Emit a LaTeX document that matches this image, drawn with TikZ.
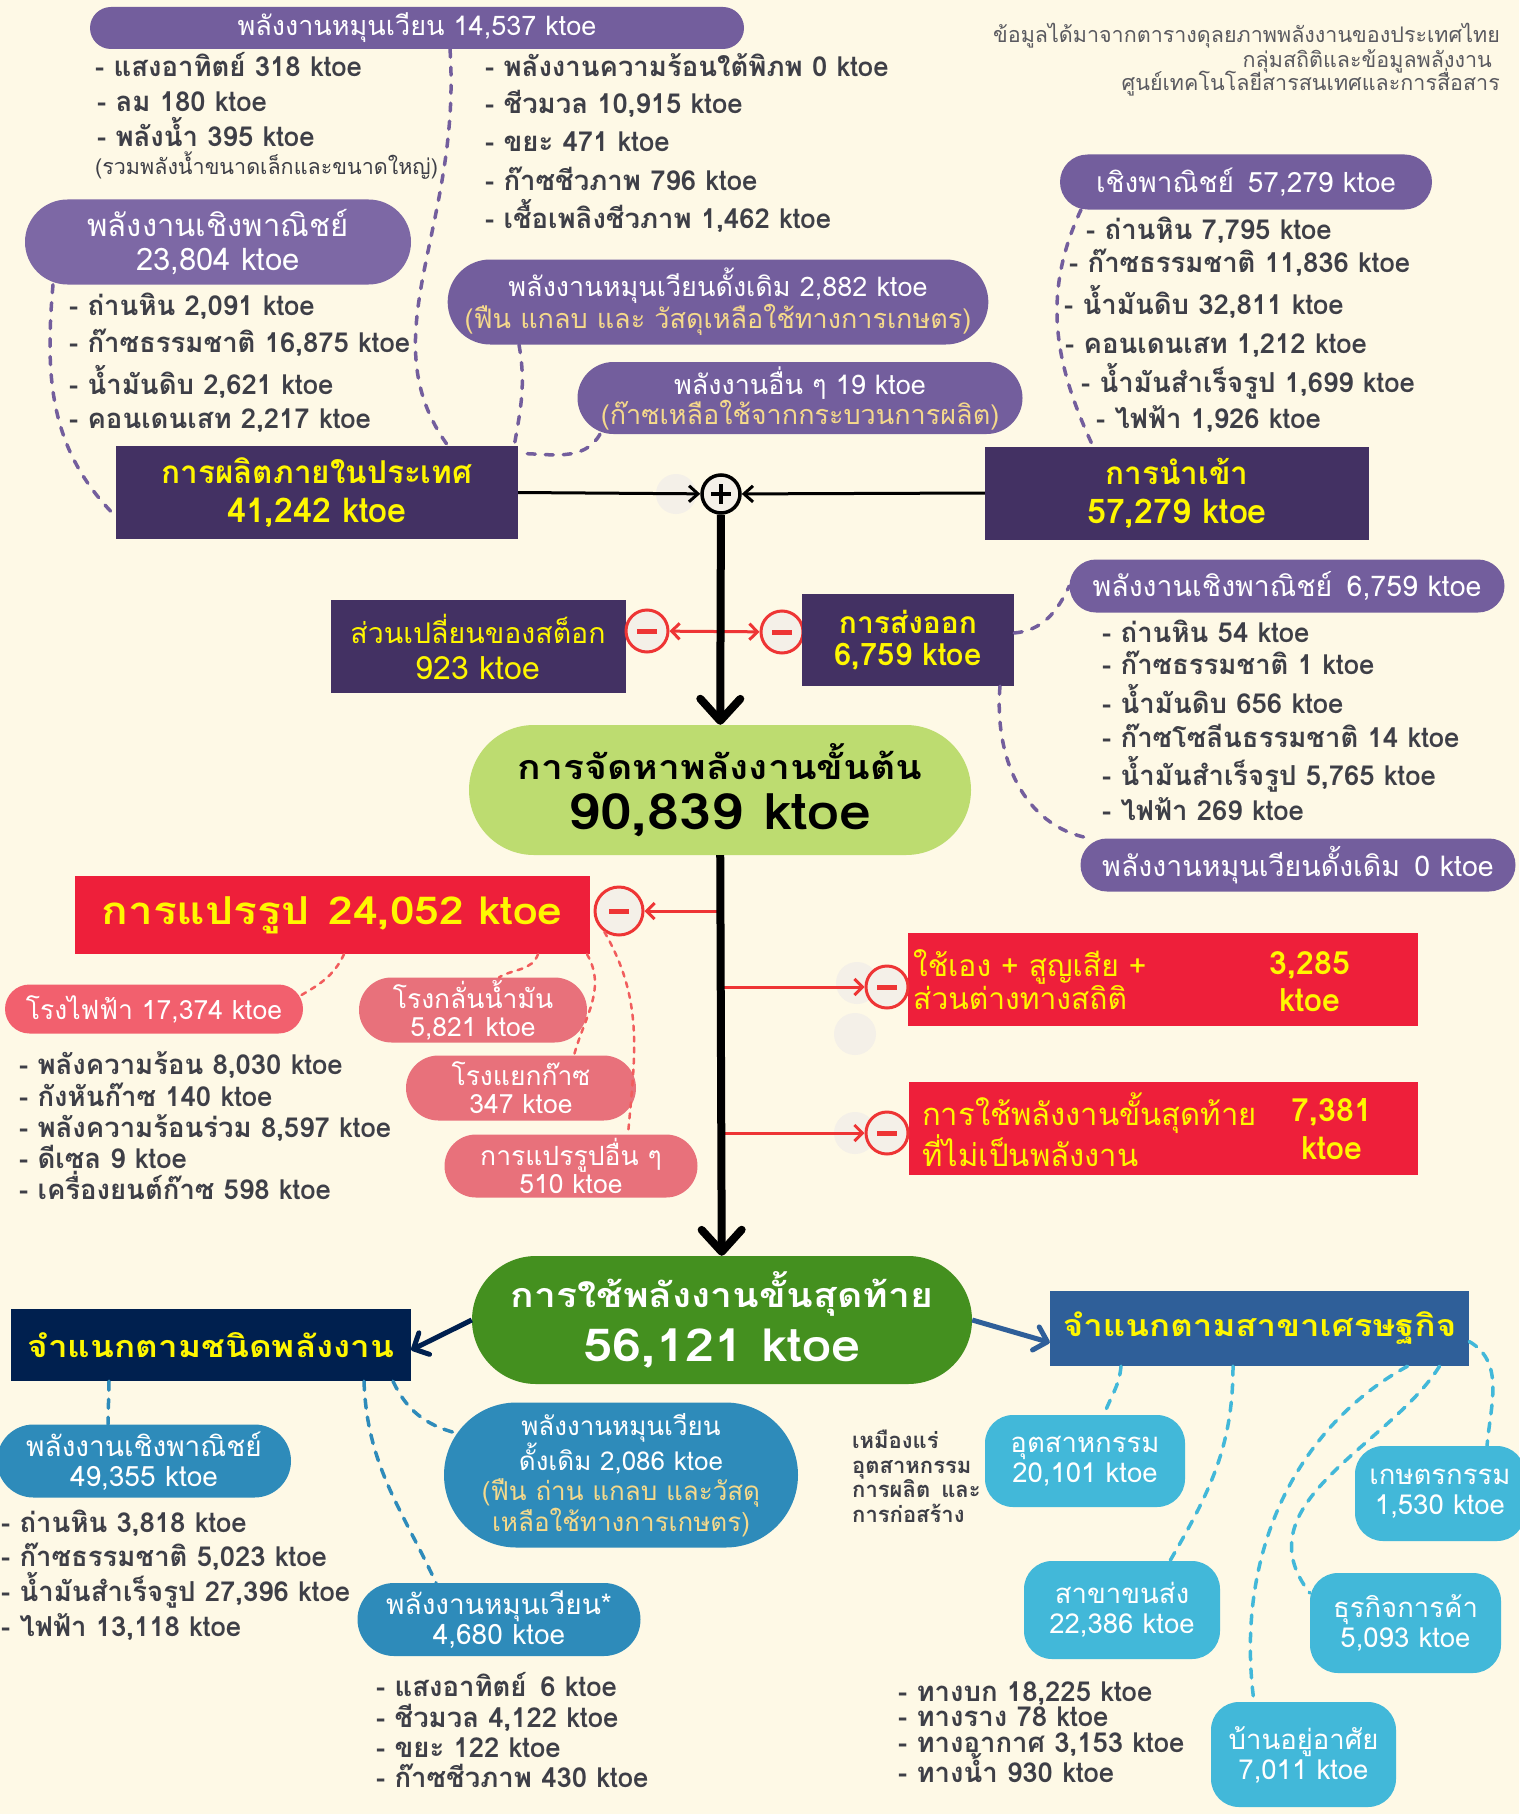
\documentclass[tikz,border=0pt]{standalone}
\usepackage{fontspec}
\setmainfont[Script=Thai]{Loma}
\newfontfamily\widefont[Script=Thai,FakeStretch=1.15]{Loma}
\usetikzlibrary{arrows.meta,shapes.misc}
\definecolor{paper}{HTML}{FEF9E6}
\definecolor{plum}{HTML}{735E9D}
\definecolor{plumlight}{HTML}{7D68A5}
\definecolor{darkplum}{HTML}{433163}
\definecolor{ylw}{HTML}{FFF700}
\definecolor{paleylw}{HTML}{F5D98B}
\definecolor{slate}{HTML}{3E3F47}
\definecolor{notegray}{HTML}{5A5A60}
\definecolor{limeg}{HTML}{BDDC70}
\definecolor{leafg}{HTML}{44901F}
\definecolor{crimson}{HTML}{EE1F3A}
\definecolor{rosea}{HTML}{F2606E}
\definecolor{roseb}{HTML}{E8717B}
\definecolor{lossred}{HTML}{EE3535}
\definecolor{ghost}{HTML}{F4F0E8}
\definecolor{navy}{HTML}{00204F}
\definecolor{steel}{HTML}{2F5F99}
\definecolor{ocean}{HTML}{2E8BBA}
\definecolor{sky}{HTML}{42B8D9}
\newcommand{\fsz}[2]{\fontsize{#1}{#2}\selectfont}

\begin{document}
\begin{tikzpicture}[x=1pt, y=-1pt,
    purplepill/.style={rounded rectangle, fill=plum, text=white, inner sep=0, align=center},
    darkbox/.style={rectangle, fill=darkplum, text=ylw, inner sep=0, align=center},
    redbox/.style={rectangle, fill=crimson, inner sep=0},
    rosepill/.style={rounded rectangle, fill=roseb, text=white, inner sep=0, align=center, font=\fsz{26.5}{28}},
    oceanpill/.style={rounded rectangle, fill=ocean, text=white, inner sep=0, align=center, font=\fsz{28}{30}},
    skybox/.style={rectangle, rounded corners=28pt, fill=sky, text=white, inner sep=0, align=center, font=\fsz{27.5}{30}},
    listtext/.style={anchor=base west, inner sep=0, text=slate, font=\fsz{27.5}{30}\bfseries},
    purpledash/.style={draw=plum, line width=3.5pt, line cap=round, dash pattern=on 8pt off 10pt},
    reddash/.style={draw=lossred!80, line width=2.5pt, line cap=round, dash pattern=on 5pt off 6pt},
    oceandash/.style={draw=ocean, line width=3.5pt, line cap=round, dash pattern=on 9pt off 9pt},
    skydash/.style={draw=sky, line width=3.5pt, line cap=round, dash pattern=on 9pt off 9pt},
    minusdot/.style={circle, draw=lossred, line width=3pt, fill=ghost, minimum size=42pt, inner sep=0,
        path picture={\fill[lossred] ([xshift=-10pt,yshift=-2.5pt]path picture bounding box.center) rectangle ([xshift=10pt,yshift=2.5pt]path picture bounding box.center);}},
    plusdot/.style={circle, draw=black, line width=3.5pt, fill=ghost, minimum size=38pt, inner sep=0,
        path picture={\draw[line width=4pt] ([xshift=-10pt]path picture bounding box.center) -- ([xshift=10pt]path picture bounding box.center) ([yshift=-10pt]path picture bounding box.center) -- ([yshift=10pt]path picture bounding box.center);}},
    thinarrow/.style={line width=3pt, -{Straight Barb[length=9pt,width=16pt]}},
    bigarrow/.style={line width=8pt, -{Straight Barb[length=22pt,width=40pt,round]}},
    redarrow/.style={draw=lossred, line width=3pt, -{Straight Barb[length=8pt,width=16pt]}},
    navyarrow/.style={line width=5pt, -{Straight Barb[length=12pt,width=24pt,round]}}]

    \fill[paper, use as bounding box] (0,0) rectangle (1519,1814);
    \fill[ghost] (676,494) circle (20);
    \fill[ghost] (857,983) circle (21);
    \fill[ghost] (855,1034) circle (21);
    \fill[ghost] (855,1133) circle (21);

    \node[purplepill, minimum width=654, minimum height=42, font=\fsz{27}{30}] (renew) at (417,28) {พลังงานหมุนเวียน 14,537 ktoe};
    \node[listtext] (rsolar) at (95,77) {- แสงอาทิตย์ 318 ktoe};
    \node[listtext] (rwind) at (97,112) {- ลม 180 ktoe};
    \node[listtext] (rhydro) at (97,147) {- พลังน้ำ 395 ktoe};
    \node[listtext, font=\fsz{21.5}{24}] (rhnote) at (95,175) {(รวมพลังน้ำขนาดเล็กและขนาดใหญ่)};
    \node[listtext] (rgeo) at (485,77) {- พลังงานความร้อนใต้พิภพ 0 ktoe};
    \node[listtext] (rbio) at (485,114) {- ชีวมวล 10,915 ktoe};
    \node[listtext] (rwaste) at (485,152) {- ขยะ 471 ktoe};
    \node[listtext] (rbgas) at (485,191) {- ก๊าซชีวภาพ 796 ktoe};
    \node[listtext] (rfuel) at (485,229) {- เชื้อเพลิงชีวภาพ 1,462 ktoe};

    \node[purplepill, fill=plumlight, minimum width=386, minimum height=85, font=\fsz{31}{34}] (comm) at (218,242) {พลังงานเชิงพาณิชย์\\23,804 ktoe};
    \node[listtext] (ccoal) at (69,315) {- ถ่านหิน 2,091 ktoe};
    \node[listtext] (cgas) at (69,352) {- ก๊าซธรรมชาติ 16,875 ktoe};
    \node[listtext] (ccrude) at (69,394) {- น้ำมันดิบ 2,621 ktoe};
    \node[listtext] (ccond) at (69,428) {- คอนเดนเสท 2,217 ktoe};

    \node[purplepill, minimum width=535, minimum height=85, font=\fsz{27}{30}] (trad) at (718,302) {พลังงานหมุนเวียนดั้งเดิม 2,882 ktoe\\\textcolor{paleylw}{(ฟืน แกลบ และ วัสดุเหลือใช้ทางการเกษตร)}};
    \node[purplepill, minimum width=445, minimum height=72, font=\fsz{27}{30}] (other) at (800,398) {พลังงานอื่น ๆ 19 ktoe\\\textcolor{paleylw}{(ก๊าซเหลือใช้จากกระบวนการผลิต)}};

    \node[anchor=base east, inner sep=0, text=notegray, font=\fsz{21.5}{26}] (srca) at (1500,43) {ข้อมูลได้มาจากตารางดุลยภาพพลังงานของประเทศไทย};
    \node[anchor=base east, inner sep=0, text=notegray, font=\fsz{21.5}{26}] (srcb) at (1492,68) {กลุ่มสถิติและข้อมูลพลังงาน};
    \node[anchor=base east, inner sep=0, text=notegray, font=\fsz{21.5}{26}] (srcc) at (1500,91) {ศูนย์เทคโนโลยีสารสนเทศและการสื่อสาร};

    \node[purplepill, minimum width=372, minimum height=55, font=\fsz{28}{30}] (imcomm) at (1246,182) {เชิงพาณิชย์\enspace 57,279 ktoe};
    \node[listtext] (icoal) at (1086,239) {- ถ่านหิน 7,795 ktoe};
    \node[listtext] (igas) at (1069,272) {- ก๊าซธรรมชาติ 11,836 ktoe};
    \node[listtext] (icrude) at (1064,314) {- น้ำมันดิบ 32,811 ktoe};
    \node[listtext] (icond) at (1065,353) {- คอนเดนเสท 1,212 ktoe};
    \node[listtext] (iprod) at (1081,392) {- น้ำมันสำเร็จรูป 1,699 ktoe};
    \node[listtext] (ielec) at (1096,428) {- ไฟฟ้า 1,926 ktoe};

    \node[darkbox, minimum width=402, minimum height=93, font=\fsz{31.5}{39}\bfseries] (prod) at (317,492.5) {การผลิตภายในประเทศ\\{\fsz{34}{39}\bfseries 41,242 ktoe}};
    \node[darkbox, minimum width=384, minimum height=93, font=\fsz{31.5}{39}\bfseries] (imp) at (1177,493) {การนำเข้า\\{\fsz{34}{39}\bfseries 57,279 ktoe}};
    \node[plusdot] (plus) at (721,494) {};

    \node[darkbox, minimum width=295, minimum height=93, font=\fsz{28.5}{36}] (stock) at (478,646.5) {ส่วนเปลี่ยนของสต็อก\\{\fsz{32}{36}923 ktoe}};
    \node[minusdot] (m1) at (647,631) {};
    \node[minusdot] (m2) at (782,632) {};
    \node[darkbox, minimum width=212, minimum height=92, font=\fsz{30}{32}\bfseries] (exp) at (908,640) {การส่งออก\\{\fsz{31}{32}\bfseries 6,759 ktoe}};

    \node[purplepill, minimum width=435, minimum height=53, font=\fsz{28.5}{30}] (excomm) at (1287,586) {พลังงานเชิงพาณิชย์\enspace 6,759 ktoe};
    \node[listtext] (ecoal) at (1102,642) {- ถ่านหิน 54 ktoe};
    \node[listtext] (egas) at (1102,674) {- ก๊าซธรรมชาติ 1 ktoe};
    \node[listtext] (ecrude) at (1102,713) {- น้ำมันดิบ 656 ktoe};
    \node[listtext] (engl) at (1102,747) {- ก๊าซโซลีนธรรมชาติ 14 ktoe};
    \node[listtext] (eprod) at (1102,785) {- น้ำมันสำเร็จรูป 5,765 ktoe};
    \node[listtext] (eelec) at (1102,820) {- ไฟฟ้า 269 ktoe};
    \node[purplepill, minimum width=435, minimum height=53, font=\fsz{28.5}{30}] (exren) at (1298,865) {พลังงานหมุนเวียนดั้งเดิม\enspace 0 ktoe};

    \node[rounded rectangle, fill=limeg, minimum width=502, minimum height=130, inner sep=0, align=center, font=\widefont\fsz{34}{50}\bfseries] (supply) at (720,790) {การจัดหาพลังงานขั้นต้น\\{\widefont\fsz{50}{50}\bfseries 90,839 ktoe}};

    \node[rectangle, fill=crimson, minimum width=515, minimum height=78, inner sep=0, text=ylw, font=\widefont\fsz{38.5}{44}\bfseries] (trans) at (332,915) {การแปรรูป\enspace 24,052 ktoe};
    \node[minusdot, minimum size=48pt] (m3) at (619,911) {};
    \node[rosepill, fill=rosea, minimum width=298, minimum height=49] (pplant) at (154,1009) {โรงไฟฟ้า 17,374 ktoe};
    \node[rosepill, minimum width=228, minimum height=65] (refin) at (473,1010) {โรงกลั่นน้ำมัน\\5,821 ktoe};
    \node[rosepill, minimum width=230, minimum height=65] (gsep) at (521,1088) {โรงแยกก๊าซ\\347 ktoe};
    \node[rosepill, minimum width=253, minimum height=63] (oconv) at (571,1166) {การแปรรูปอื่น ๆ\\510 ktoe};
    \node[listtext] (pheat) at (19,1074) {- พลังความร้อน 8,030 ktoe};
    \node[listtext] (pturb) at (19,1106) {- กังหันก๊าซ 140 ktoe};
    \node[listtext] (pcomb) at (19,1137) {- พลังความร้อนร่วม 8,597 ktoe};
    \node[listtext] (pdies) at (19,1168) {- ดีเซล 9 ktoe};
    \node[listtext] (pgeng) at (19,1199) {- เครื่องยนต์ก๊าซ 598 ktoe};

    \node[redbox, minimum width=510, minimum height=93] (own) at (1163,979.5) {};
    \node[anchor=west, inner sep=0, align=left, text=ylw, font=\fsz{30}{33}] (owntxt) at (913,980) {ใช้เอง + สูญเสีย +\\ส่วนต่างทางสถิติ};
    \node[inner sep=0, align=center, text=ylw, font=\fsz{32}{37}\bfseries] (ownval) at (1310,982) {3,285\\ktoe};
    \node[minusdot] (m4) at (887,987) {};
    \node[redbox, minimum width=509, minimum height=93] (nonen) at (1163.5,1128.5) {};
    \node[anchor=west, inner sep=0, align=left, text=ylw, font=\fsz{31}{34}] (nonentxt) at (922,1130) {การใช้พลังงานขั้นสุดท้าย\\ที่ไม่เป็นพลังงาน};
    \node[inner sep=0, align=center, text=ylw, font=\fsz{32}{38}\bfseries] (nonenval) at (1332,1129) {7,381\\ktoe};
    \node[minusdot] (m5) at (887,1133) {};

    \node[rounded rectangle, fill=leafg, minimum width=500, minimum height=128, inner sep=0, align=center, text=white, font=\widefont\fsz{34}{54}\bfseries] (final) at (722,1320) {การใช้พลังงานขั้นสุดท้าย\\{\widefont\fsz{45.5}{54}\bfseries 56,121 ktoe}};
    \node[rectangle, fill=navy, minimum width=400, minimum height=72, inner sep=0, text=ylw, font=\widefont\fsz{30.5}{36}\bfseries] (kind) at (211,1345) {จำแนกตามชนิดพลังงาน};
    \node[rectangle, fill=steel, minimum width=419, minimum height=75, inner sep=0, text=ylw, font=\widefont\fsz{30.3}{36}\bfseries] (sector) at (1259.5,1328.5) {จำแนกตามสาขาเศรษฐกิจ};

    \node[oceanpill, minimum width=294, minimum height=73] (bcomm) at (144,1461) {พลังงานเชิงพาณิชย์\\49,355 ktoe};
    \node[listtext] (bcoal) at (1,1532) {- ถ่านหิน 3,818 ktoe};
    \node[listtext] (bgas) at (1,1566) {- ก๊าซธรรมชาติ 5,023 ktoe};
    \node[listtext] (bprod) at (1,1601) {- น้ำมันสำเร็จรูป 27,396 ktoe};
    \node[listtext] (belec) at (1,1636) {- ไฟฟ้า 13,118 ktoe};
    \node[oceanpill, minimum width=354, minimum height=145, font=\fsz{26}{29.5}] (btrad) at (621,1475) {พลังงานหมุนเวียน\\ดั้งเดิม 2,086 ktoe\\\textcolor{paleylw}{(ฟืน ถ่าน แกลบ และวัสดุ}\\\textcolor{paleylw}{เหลือใช้ทางการเกษตร)}};
    \node[oceanpill, minimum width=283, minimum height=73] (brenew) at (499,1619.5) {พลังงานหมุนเวียน*\\4,680 ktoe};
    \node[listtext] (bsolar) at (376,1696) {- แสงอาทิตย์\enspace 6 ktoe};
    \node[listtext] (bbio) at (376,1727) {- ชีวมวล 4,122 ktoe};
    \node[listtext] (bwaste) at (376,1757) {- ขยะ 122 ktoe};
    \node[listtext] (bbgas) at (376,1787) {- ก๊าซชีวภาพ 430 ktoe};

    \node[anchor=north west, inner sep=0, align=left, text=slate, font=\fsz{22}{24.5}\bfseries] (mining) at (852,1430) {เหมืองแร่\\อุตสาหกรรม\\การผลิต\enspace และ\\การก่อสร้าง};
    \node[skybox, minimum width=200, minimum height=92] (indus) at (1085,1461) {อุตสาหกรรม\\20,101 ktoe};
    \node[skybox, minimum width=196, minimum height=98] (haul) at (1122,1610) {สาขาขนส่ง\\22,386 ktoe};
    \node[listtext] (hroad) at (898,1701) {- ทางบก 18,225 ktoe};
    \node[listtext] (hrail) at (898,1726) {- ทางราง 78 ktoe};
    \node[listtext] (hair) at (898,1752) {- ทางอากาศ 3,153 ktoe};
    \node[listtext] (hwater) at (898,1782) {- ทางน้ำ 930 ktoe};
    \node[skybox, minimum width=185, minimum height=105] (home) at (1303.5,1754.5) {บ้านอยู่อาศัย\\7,011 ktoe};
    \node[skybox, minimum width=191, minimum height=100] (trade) at (1405.5,1623) {ธุรกิจการค้า\\5,093 ktoe};
    \node[skybox, minimum width=170, minimum height=95] (agri) at (1440,1493.5) {เกษตรกรรม\\1,530 ktoe};

    \coordinate (tapT) at (721,911);
    \coordinate (tapU) at (721,987);
    \coordinate (tapN) at (721,1133);
    \draw[redarrow, {Straight Barb[length=8pt,width=16pt]}-{Straight Barb[length=8pt,width=16pt]}] (m1) -- (m2);
    \draw[redarrow] (tapT) -- (m3);
    \draw[redarrow] (tapU) -- (m4);
    \draw[redarrow] (tapN) -- (m5);
    \draw[thinarrow] (prod.east) -- (plus);
    \draw[thinarrow] (imp.west) -- (plus);
    \draw[bigarrow] (plus) -- (supply);
    \draw[bigarrow] (supply) -- (final);
    \draw[navyarrow, draw=navy] (final.west) -- ([yshift=-5]kind.east);
    \draw[navyarrow, draw=steel] (final.east) -- ([yshift=-14]sector.west);

    \draw[purpledash] ([xshift=33]renew.south) .. controls +(12,180) and +(-80,-110) .. ([xshift=131]prod.north);
    \draw[purpledash] ([xshift=-165]comm.south) to[out=-95,in=135] ([yshift=-24]prod.west);
    \draw[purpledash] ([xshift=-199]trad.south) to[out=-80,in=80] ([xshift=-4]prod.north east);
    \draw[purpledash] ([xshift=-200]other.south) to[out=-120,in=0] ([yshift=39]prod.east);
    \draw[purpledash] ([xshift=-165]imcomm.south) to[out=-115,in=115] ([xshift=-84]imp.north);
    \draw[purpledash] ([yshift=7]exp.east) to[out=5,in=-115] (excomm.west);
    \draw[purpledash] ([xshift=92]exp.south) to[out=-95,in=170] ([xshift=-208]exren.north);

    \draw[reddash] ([xshift=12]trans.south) to[out=-115,in=30] ([xshift=144,yshift=12]pplant.center);
    \draw[reddash] ([xshift=206]trans.south) to[out=-110,in=30] ([xshift=26]refin.north);
    \draw[reddash] ([xshift=255]trans.south) to[out=-60,in=75] ([xshift=53]gsep.north);
    \draw[reddash] (m3.235) to[out=-60,in=85] ([xshift=57]oconv.north);

    \draw[oceandash] ([xshift=-102]kind.south) -- ([xshift=-36]bcomm.north);
    \draw[oceandash] ([xshift=182]kind.south) to[out=-65,in=165] ([xshift=-165,yshift=42]btrad.center);
    \draw[oceandash] ([xshift=153]kind.south) to[out=-88,in=115] ([xshift=-63]brenew.north);

    \draw[skydash] ([xshift=-138.5]sector.south) to[out=-95,in=70] ([xshift=19]indus.north);
    \draw[skydash] ([xshift=-26.5]sector.south) to[out=-90,in=60] ([xshift=48]haul.north);
    \draw[skydash] ([xshift=148]sector.south) .. controls +(-110,60) and +(-20,-150) .. ([xshift=-49.5]home.north);
    \draw[skydash] ([xshift=180]sector.south) .. controls +(-50,80) and +(-70,-90) .. ([yshift=30]trade.west);
    \draw[skydash] ([yshift=-13]sector.east) to[out=-30,in=85] ([xshift=47]agri.north);
\end{tikzpicture}
\end{document}
